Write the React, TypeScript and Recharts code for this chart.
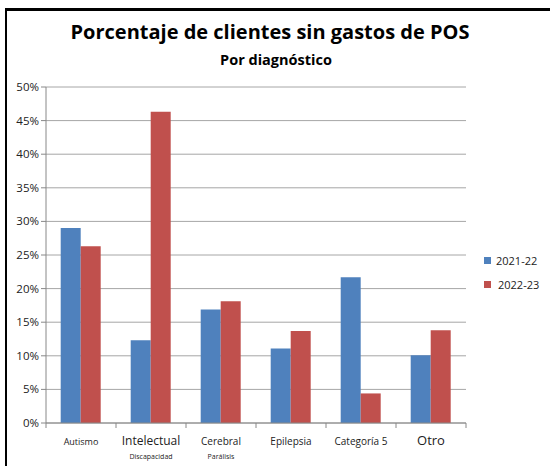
import React from 'react'
import { BarChart, Bar, XAxis, YAxis, CartesianGrid } from 'recharts'

const categories = ['Autismo', 'Intelectual', 'Cerebral', 'Epilepsia', 'Categoría 5', 'Otro']
const subLabels = ['', 'Discapacidad', 'Parálisis', '', '', '']
const values2122 = [0.29, 0.123, 0.169, 0.111, 0.217, 0.101]
const values2223 = [0.263, 0.463, 0.181, 0.137, 0.044, 0.138]
const yTicks = [0, 0.05, 0.1, 0.15, 0.2, 0.25, 0.3, 0.35, 0.4, 0.45, 0.5]

const data = categories.map((c, i) => ({
  name: c,
  sub: subLabels[i],
  y2122: values2122[i],
  y2223: values2223[i],
}))

const labelSizes = [9, 12, 10, 10, 10, 13]
const font = '"Open Sans", sans-serif'

const CategoryTick = (props: any) => {
  const { x, y, payload, index } = props
  const half = 35
  return (
    <g>
      <line x1={x - half} y1={y - 8} x2={x - half} y2={y - 3} stroke="#888" />
      {index === categories.length - 1 && (
        <line x1={x + half} y1={y - 8} x2={x + half} y2={y - 3} stroke="#888" />
      )}
      <text x={x} y={y + 14} textAnchor="middle" fontSize={labelSizes[index]} fill="#222" fontFamily={font}>
        {payload.value}
      </text>
      {subLabels[index] && (
        <text x={x} y={y + 28} textAnchor="middle" fontSize={7} fill="#222" fontFamily={font}>
          {subLabels[index]}
        </text>
      )}
    </g>
  )
}

const LegendBox = () => (
  <div style={{ position: 'absolute', left: 484, top: 253, fontFamily: font, fontSize: 11, color: '#222' }}>
    <div style={{ display: 'flex', alignItems: 'center', marginBottom: 9 }}>
      <span style={{ width: 7, height: 7, background: '#4F81BD', marginRight: 5, display: 'inline-block' }} />
      2021-22
    </div>
    <div style={{ display: 'flex', alignItems: 'center' }}>
      <span style={{ width: 7, height: 7, background: '#C0504D', marginRight: 7, display: 'inline-block' }} />
      2022-23
    </div>
  </div>
)

export default function App() {
  return (
    <div style={{ position: 'absolute', left: 0, top: 0, width: 550, height: 466, background: '#fff' }}>
      <div style={{ position: 'absolute', left: 5, top: 8, width: 545, height: 458, borderTop: '3px solid #000', borderLeft: '2px solid #000' }} />
      <div style={{ position: 'absolute', left: 0, top: 18, width: 540, textAlign: 'center', fontFamily: font, fontWeight: 700, fontSize: 20, color: '#000' }}>
        Porcentaje de clientes sin gastos de POS
      </div>
      <div style={{ position: 'absolute', left: 0, top: 50, width: 552, textAlign: 'center', fontFamily: font, fontWeight: 700, fontSize: 14.5, color: '#000' }}>
        Por diagnóstico
      </div>
      <div style={{ position: 'absolute', left: 0, top: 0 }}>
        <BarChart
          width={550}
          height={466}
          data={data}
          margin={{ top: 87, right: 84, left: 0, bottom: 0 }}
          barCategoryGap="21%"
          barGap={0}
        >
          <CartesianGrid vertical={false} stroke="#A6A6A6" />
          <XAxis
            dataKey="name"
            height={43}
            tickLine={false}
            stroke="#888"
            interval={0}
            tick={<CategoryTick />}
          />
          <YAxis
            width={46}
            domain={[0, 0.5]}
            ticks={yTicks}
            tickFormatter={(v: number) => `${Math.round(v * 100)}%`}
            tickSize={5}
            stroke="#888"
            tick={{ fontSize: 11.5, fill: '#222', fontFamily: font }}
            interval={0}
          />
          <Bar dataKey="y2122" fill="#4F81BD" isAnimationActive={false} />
          <Bar dataKey="y2223" fill="#C0504D" isAnimationActive={false} />
        </BarChart>
      </div>
      <LegendBox />
    </div>
  )
}
